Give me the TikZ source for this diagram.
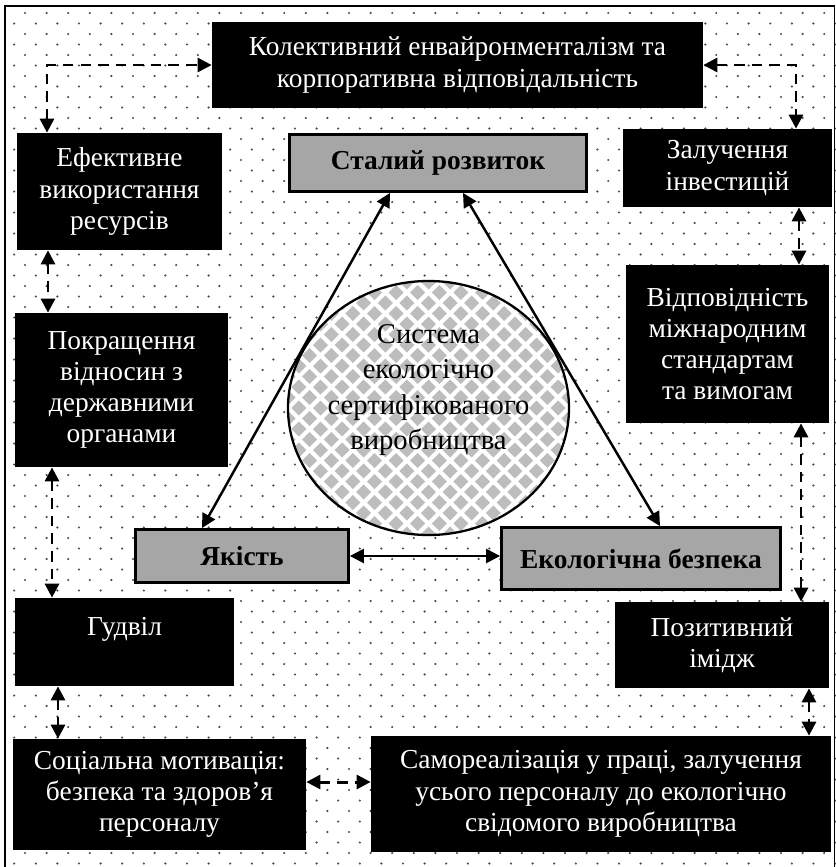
\documentclass[tikz,border=0pt]{standalone}
\usepackage{fontspec}
\setmainfont{Liberation Serif}
\usetikzlibrary{arrows.meta,shapes.geometric}

\begin{document}
\begin{tikzpicture}[
    blackbox/.style={fill=black, text=white, align=center, inner sep=0pt,
      font=\fontsize{15.6}{17.8}\selectfont},
    greybox/.style={fill=black!35, draw=black, line width=1.6pt, align=center, inner sep=0pt,
      font=\fontsize{15.6}{17.8}\selectfont\bfseries},
    link/.style={line width=1.4pt,
      {Triangle[length=8pt,width=8pt]}-{Triangle[length=8pt,width=8pt]}},
    dlink/.style={line width=1.7pt, dash pattern=on 6pt off 4pt,
      {Triangle[length=8pt,width=8pt]}-{Triangle[length=8pt,width=8pt]}}
  ]
    \useasboundingbox (0,0) rectangle (16.72,-17.34);
    \foreach \j in {0,...,81}
      \path[fill=black!70] \foreach \i in {0,...,38}
        {({0.50+0.432*\i-0.216*mod(\j,2)},{-0.26-0.21*\j}) circle (0.024)};
    \path[draw, line width=1pt] (0.10,-17.34) -- (0.10,-0.12) -- (16.69,-0.12) -- (16.69,-17.34);

    \begin{scope}
      \clip (8.57,-8.16) ellipse (2.81cm and 2.54cm);
      \path[fill=white] (5.6,-5.5) rectangle (11.6,-10.8);
      \foreach \a in {-14,...,14}
        \foreach \b in {-14,...,14}
          \path[fill=black!26] ({8.57+0.216*(\a-\b)},{-8.16+0.21*(\a+\b)})
            +(0,0.15) -- +(0.15,0) -- +(0,-0.15) -- +(-0.15,0) -- cycle;
    \end{scope}
    \node[ellipse, draw, line width=1.3pt, minimum width=5.62cm, minimum height=5.08cm] (sys) at (8.57,-8.16) {};
    \node[align=center, font=\fontsize{16.3}{20}\selectfont] (systxt) at (8.57,-7.80)
      {Система\\екологічно\\сертифікованого\\виробництва};

    \node[blackbox, minimum width=9.82cm, minimum height=1.72cm] (coll) at (9.15,-1.30)
      {Колективний енвайронменталізм та\\корпоративна відповідальність};
    \node[blackbox, minimum width=4.10cm, minimum height=2.34cm] (eff) at (2.39,-3.83)
      {Ефективне\\використання\\ресурсів};
    \node[greybox, minimum width=5.94cm, minimum height=1.14cm] (sust) at (8.76,-3.26) {Сталий розвиток};
    \node[blackbox, minimum width=4.18cm, minimum height=1.56cm] (inv) at (14.55,-3.36)
      {Залучення\\інвестицій};
    \node[blackbox, minimum width=4.06cm, minimum height=3.16cm] (stand) at (14.55,-6.88)
      {Відповідність\\міжнародним\\стандартам\\та вимогам};
    \node[blackbox, minimum width=4.26cm, minimum height=3.08cm] (gov) at (2.43,-7.80)
      {Покращення\\відносин з\\державними\\органами};
    \node[greybox, minimum width=4.26cm, minimum height=1.06cm] (qual) at (4.84,-11.12) {Якість};
    \node[greybox, minimum width=5.58cm, minimum height=1.24cm] (safe) at (12.82,-11.17) {Екологічна безпека};
    \node[blackbox, minimum width=4.38cm, minimum height=1.76cm] (good) at (2.49,-12.84) {Гудвіл\\~};
    \node[blackbox, minimum width=4.28cm, minimum height=1.72cm] (img) at (14.44,-12.90)
      {Позитивний\\імідж};
    \node[blackbox, minimum width=5.86cm, minimum height=2.22cm] (soc) at (3.19,-15.89)
      {Соціальна мотивація:\\безпека та здоров’я\\персоналу};
    \node[blackbox, minimum width=9.20cm, minimum height=2.32cm] (self) at (12.02,-15.88)
      {Самореалізація у праці, залучення\\усього персоналу до екологічно\\свідомого виробництва};

    \path[draw, link] ([xshift=-0.8cm]qual.north) -- ([xshift=-0.96cm]sust.south);
    \path[draw, link] ([xshift=0.5cm]sust.south) -- ([xshift=0.38cm]safe.north);
    \path[draw, link] (qual.east) -- (qual.east -| safe.west);

    \coordinate (cl) at (0.94,0);
    \coordinate (cr) at (15.92,0);
    \coordinate (la) at (0.96,0);
    \coordinate (lb) at (1.04,0);
    \coordinate (lc) at (1.16,0);
    \coordinate (ra) at (15.98,0);
    \coordinate (rb) at (16.02,0);
    \coordinate (rc) at (16.18,0);
    \coordinate (bt) at (0,-15.64);
    \path[draw, dlink] (eff.north -| cl) |- (coll.west);
    \path[draw, dlink] (coll.east) -| (inv.north -| cr);
    \path[draw, dlink] (eff.south -| la) -- (gov.north -| la);
    \path[draw, dlink] (gov.south -| lb) -- (good.north -| lb);
    \path[draw, dlink] (good.south -| lc) -- (soc.north -| lc);
    \path[draw, dlink] (inv.south -| ra) -- (stand.north -| ra);
    \path[draw, dlink] (stand.south -| rb) -- (img.north -| rb);
    \path[draw, dlink] (img.south -| rc) -- (self.north -| rc);
    \path[draw, dlink] (soc.east |- bt) -- (self.west |- bt);
  \end{tikzpicture}
\end{document}
